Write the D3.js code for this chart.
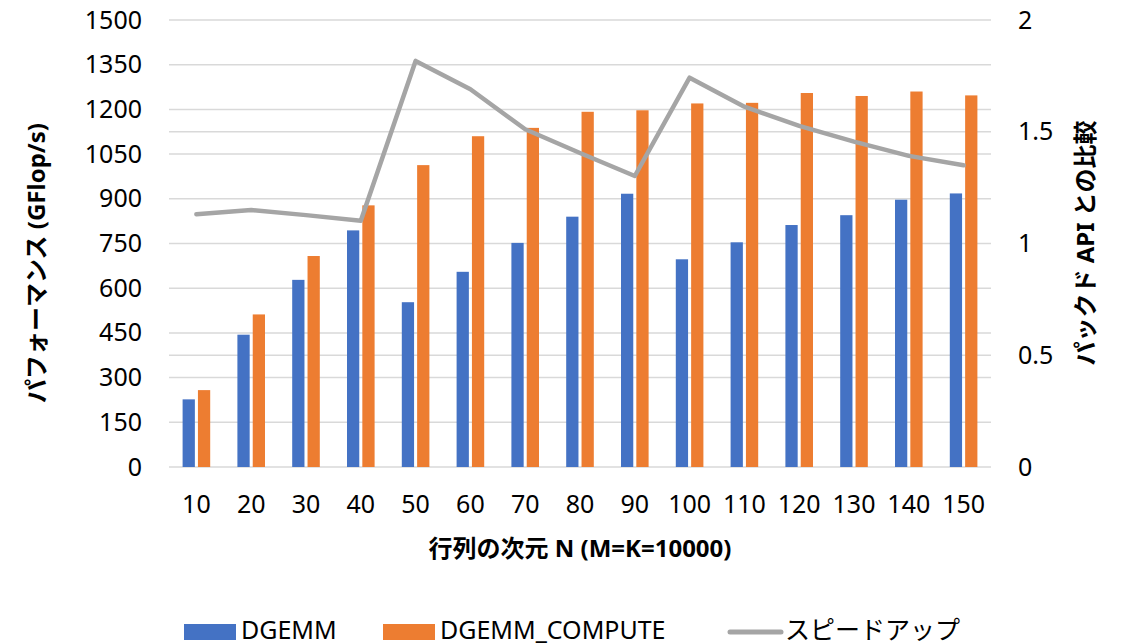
<!DOCTYPE html>
<html lang="ja">
<head>
<meta charset="utf-8">
<script src="https://cdn.jsdelivr.net/npm/d3@7"></script>
<style>
  html, body { margin: 0; padding: 0; background: #fff; }
  svg { display: block; font-family: "Noto Sans", "Noto Sans CJK JP", sans-serif; }
</style>
</head>
<body>
<svg id="chart" width="1122" height="644"></svg>
<script>
// Matrix size N (M = K = 10000)
const categories = ["10", "20", "30", "40", "50", "60", "70", "80", "90", "100", "110", "120", "130", "140", "150"];
// Performance in GFlop/s
const dgemm = [227, 444, 628, 794, 553, 655, 752, 840, 917, 697, 754, 812, 845, 897, 918];
const dgemmCompute = [258, 512, 708, 878, 1013, 1110, 1138, 1192, 1197, 1220, 1222, 1255, 1245, 1260, 1247];
// Speedup relative to the packed API
const speedup = [1.131, 1.150, 1.127, 1.102, 1.817, 1.690, 1.511, 1.405, 1.302, 1.742, 1.612, 1.526, 1.456, 1.392, 1.350];
const leftTicks = [0, 150, 300, 450, 600, 750, 900, 1050, 1200, 1350, 1500];
const rightTicks = [0, 0.5, 1, 1.5, 2];
const seriesNames = ["DGEMM", "DGEMM_COMPUTE", "スピードアップ"];
const colors = { DGEMM: "#4472C4", DGEMM_COMPUTE: "#ED7D31", speed: "#A5A5A5" };

const svg = d3.select("#chart");
const plot = { left: 169, right: 991, top: 20, bottom: 467 };

const x = d3.scaleBand().domain(categories).range([plot.left, plot.right]).padding(0);
const xSub = d3.scaleBand().domain(["DGEMM", "DGEMM_COMPUTE"]).range([-13.8, 13.8]).paddingInner(0.2);
const yL = d3.scaleLinear().domain([0, 1500]).range([plot.bottom, plot.top]);
const yR = d3.scaleLinear().domain([0, 2]).range([plot.bottom, plot.top]);

// Gridlines from both value axes
const gridVals = Array.from(new Set([
  ...leftTicks.map(v => yL(v)),
  ...rightTicks.map(v => yR(v))
].map(v => Math.round(v * 10) / 10)));
svg.append("g").selectAll("line").data(gridVals).join("line")
  .attr("x1", plot.left).attr("x2", plot.right)
  .attr("y1", d => d).attr("y2", d => d)
  .attr("stroke", "#d9d9d9").attr("stroke-width", 1.5);

// Bars
const cx = c => x(c) + x.bandwidth() / 2;
const bars = svg.append("g");
[["DGEMM", dgemm], ["DGEMM_COMPUTE", dgemmCompute]].forEach(([name, vals]) => {
  bars.selectAll(null).data(vals).join("rect")
    .attr("x", (d, i) => cx(categories[i]) + xSub(name))
    .attr("width", xSub.bandwidth())
    .attr("y", d => yL(d))
    .attr("height", d => yL(0) - yL(d))
    .attr("fill", colors[name]);
});

// Speedup line
const line = d3.line().x((d, i) => cx(categories[i])).y(d => yR(d));
svg.append("path").datum(speedup)
  .attr("d", line)
  .attr("fill", "none")
  .attr("stroke", colors.speed)
  .attr("stroke-width", 4.5)
  .attr("stroke-linejoin", "round")
  .attr("stroke-linecap", "round");

// Axes
const axisLeft = d3.axisLeft(yL).tickValues(leftTicks).tickSize(0).tickPadding(0).tickFormat(d3.format("d"));
const gL = svg.append("g").attr("transform", `translate(142,0)`).call(axisLeft);
const axisRight = d3.axisRight(yR).tickValues(rightTicks).tickSize(0).tickPadding(0).tickFormat(d3.format("~g"));
const gR = svg.append("g").attr("transform", `translate(1018,0)`).call(axisRight);
const axisBottom = d3.axisBottom(x).tickSize(0).tickPadding(0);
const gB = svg.append("g").attr("transform", `translate(0,494)`).call(axisBottom);
[gL, gR, gB].forEach(g => {
  g.select(".domain").remove();
  g.selectAll("text").attr("font-size", 25).attr("fill", "#000")
    .attr("font-family", "'Noto Sans', sans-serif");
});
gB.selectAll("text").attr("dy", "0.76em");

// Axis titles
svg.append("text")
  .attr("x", 580).attr("y", 557)
  .attr("text-anchor", "middle")
  .attr("font-size", 24).attr("font-weight", "bold")
  .text("行列の次元 N (M=K=10000)");
svg.append("text")
  .attr("transform", "translate(45,263) rotate(-90)")
  .attr("text-anchor", "middle")
  .attr("font-size", 24).attr("font-weight", "bold")
  .text("パフォーマンス (GFlop/s)");
svg.append("text")
  .attr("transform", "translate(1086,243) rotate(-90)")
  .attr("text-anchor", "middle")
  .attr("dy", "0.35em")
  .attr("font-size", 24).attr("font-weight", "bold")
  .text("パックド API との比較");

// Legend
const legend = svg.append("g");
const legendItems = [
  { name: seriesNames[0], type: "rect", color: colors.DGEMM, x: 184 },
  { name: seriesNames[1], type: "rect", color: colors.DGEMM_COMPUTE, x: 383 },
  { name: seriesNames[2], type: "line", color: colors.speed, x: 728 }
];
legendItems.forEach(it => {
  if (it.type === "rect") {
    legend.append("rect").attr("x", it.x).attr("y", 624).attr("width", 52).attr("height", 16).attr("fill", it.color);
  } else {
    legend.append("line").attr("x1", it.x + 2).attr("x2", it.x + 53).attr("y1", 632).attr("y2", 632)
      .attr("stroke", it.color).attr("stroke-width", 5).attr("stroke-linecap", "round");
  }
  legend.append("text").attr("x", it.x + 57).attr("y", 639)
    .attr("font-size", 25).text(it.name);
});
</script>
</body>
</html>
